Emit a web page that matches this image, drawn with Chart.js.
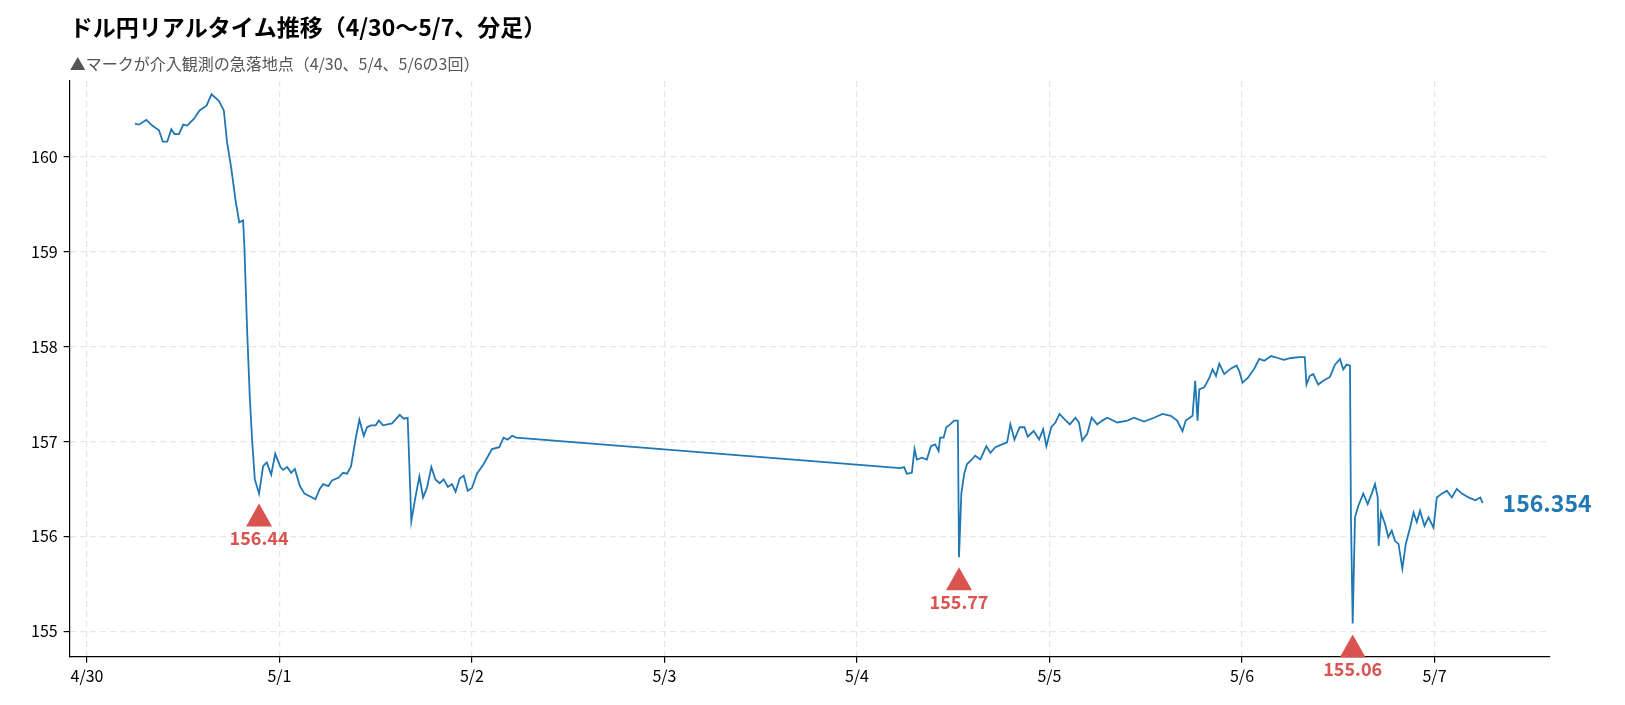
<!DOCTYPE html>
<html>
<head>
<meta charset="utf-8">
<script src="https://cdn.jsdelivr.net/npm/chart.js@4"></script>
<style>
  body { margin: 0; background: #fff; }
  .wrap { width: 1625px; height: 705px; }
</style>
</head>
<body>
<div class="wrap"><canvas id="c"></canvas></div>
<script>
// days since 4/30 00:00
const days = [
  0.249,0.270,0.308,0.339,0.374,0.394,0.417,0.438,0.455,0.478,0.500,0.521,0.555,0.585,0.621,0.647,0.685,0.711,
  0.728,0.749,0.772,0.791,0.811,0.818,0.832,0.846,0.858,0.872,0.894,0.915,0.934,0.957,0.978,1.005,1.019,1.040,
  1.061,1.080,1.106,1.130,1.187,1.209,1.227,1.254,1.273,1.308,1.330,1.351,1.372,1.394,1.415,1.438,1.455,1.476,
  1.500,1.516,1.538,1.585,1.625,1.645,1.666,1.685,1.706,1.727,1.746,1.766,1.789,1.810,1.832,1.853,1.875,1.896,
  1.915,1.936,1.957,1.978,2.000,2.026,2.060,2.104,2.142,2.164,2.185,2.209,2.230,
  4.225,4.245,4.259,4.285,4.299,4.311,4.337,4.363,4.384,4.406,4.424,4.432,4.450,4.464,4.484,4.505,4.524,4.530,
  4.542,4.557,4.571,4.597,4.614,4.641,4.672,4.693,4.719,4.753,4.780,4.797,4.818,4.845,4.870,4.887,4.918,4.946,
  4.967,4.984,5.009,5.031,5.052,5.075,5.106,5.135,5.153,5.170,5.196,5.219,5.248,5.274,5.300,5.352,5.405,5.439,
  5.491,5.543,5.587,5.630,5.663,5.691,5.708,5.743,5.757,5.769,5.778,5.804,5.830,5.847,5.865,5.882,5.908,5.943,
  5.972,5.986,6.003,6.030,6.064,6.090,6.116,6.151,6.186,6.217,6.255,6.299,6.326,6.335,6.352,6.370,6.396,6.422,
  6.457,6.483,6.509,6.526,6.543,6.561,6.566,6.575,6.587,6.604,6.630,6.653,6.674,6.691,6.705,6.710,6.722,6.743,
  6.760,6.778,6.795,6.813,6.833,6.851,6.873,6.891,6.908,6.925,6.948,6.969,6.995,7.012,7.038,7.064,7.090,7.116,
  7.142,7.177,7.212,7.238,7.250
];
const prices = [
  160.35,160.34,160.39,160.33,160.28,160.16,160.16,160.29,160.24,160.24,160.34,160.33,160.40,160.49,160.54,160.66,160.59,160.49,
  160.15,159.89,159.54,159.31,159.33,159.04,158.17,157.46,157.01,156.60,156.45,156.74,156.78,156.65,156.87,156.73,156.70,156.73,
  156.67,156.71,156.53,156.45,156.39,156.50,156.55,156.53,156.59,156.62,156.67,156.66,156.74,157.01,157.23,157.06,157.15,157.17,
  157.17,157.22,157.17,157.19,157.28,157.24,157.25,156.16,156.41,156.63,156.41,156.51,156.73,156.60,156.56,156.60,156.52,156.55,
  156.47,156.61,156.64,156.48,156.51,156.66,156.76,156.92,156.94,157.04,157.02,157.06,157.04,
  156.72,156.73,156.66,156.67,156.92,156.81,156.83,156.81,156.95,156.97,156.90,157.04,157.04,157.15,157.18,157.22,157.22,155.78,
  156.45,156.66,156.76,156.81,156.85,156.81,156.95,156.88,156.94,156.97,156.99,157.18,157.02,157.15,157.15,157.05,157.11,157.02,
  157.13,156.95,157.15,157.20,157.29,157.24,157.18,157.25,157.20,157.01,157.08,157.25,157.18,157.22,157.25,157.20,157.22,157.25,
  157.21,157.25,157.29,157.27,157.22,157.11,157.22,157.27,157.64,157.22,157.55,157.57,157.67,157.76,157.69,157.82,157.71,157.77,
  157.80,157.74,157.62,157.67,157.77,157.87,157.85,157.90,157.88,157.86,157.88,157.89,157.89,157.60,157.69,157.71,157.60,157.64,
  157.68,157.81,157.87,157.76,157.81,157.80,156.20,155.08,156.20,156.32,156.45,156.34,156.45,156.55,156.41,155.90,156.25,156.13,
  155.99,156.06,155.95,155.92,155.66,155.92,156.09,156.25,156.15,156.27,156.11,156.20,156.09,156.41,156.45,156.48,156.41,156.50,
  156.45,156.41,156.38,156.41,156.35
];
const dayLabels = ['4/30','5/1','5/2','5/3','5/4','5/5','5/6','5/7'];
const dropDays = [0.894, 4.530, 6.575];
const dropPrices = [156.44, 155.77, 155.06];
const lastPrice = '156.354';
const titleText = 'ドル円リアルタイム推移（4/30〜5/7、分足）';
const subText = '▲マークが介入観測の急落地点（4/30、5/4、5/6の3回）';

const JP = '"Noto Sans CJK JP", "Noto Sans", sans-serif';
const BLUE = '#1f77b4';
const RED = '#d9534f';

const markPlugin = {
  id: 'marks',
  afterDraw(chart) {
    const { ctx, chartArea, scales: { x, y } } = chart;
    ctx.save();
    // title + subtitle aligned with the plot's left edge
    ctx.textAlign = 'left';
    ctx.textBaseline = 'middle';
    ctx.fillStyle = '#000';
    ctx.font = 'bold 23px ' + JP;
    ctx.fillText(titleText, chartArea.left, 27);
    ctx.fillStyle = '#555';
    ctx.font = '16px ' + JP;
    ctx.fillText(subText, chartArea.left, 64);

    dropDays.forEach((d, i) => {
      const px = x.getPixelForValue(d);
      const py = y.getPixelForValue(dropPrices[i]) + 21;
      ctx.fillStyle = RED;
      ctx.beginPath();
      ctx.moveTo(px, py - 12);
      ctx.lineTo(px + 13, py + 11);
      ctx.lineTo(px - 13, py + 11);
      ctx.closePath();
      ctx.fill();
      ctx.font = 'bold 18px ' + JP;
      ctx.textAlign = 'center';
      ctx.fillText(dropPrices[i].toFixed(2), px, py + 23);
    });
    const lx = x.getPixelForValue(days[days.length - 1]) + 20;
    const ly = y.getPixelForValue(prices[prices.length - 1]);
    ctx.fillStyle = BLUE;
    ctx.font = 'bold 23px ' + JP;
    ctx.textAlign = 'left';
    ctx.fillText(lastPrice, lx, ly);
    ctx.restore();
  }
};

new Chart(document.getElementById('c'), {
  type: 'line',
  data: {
    datasets: [{
      data: days.map((d, i) => ({ x: d, y: prices[i] })),
      borderColor: BLUE,
      borderWidth: 1.8,
      pointRadius: 0,
      tension: 0,
      fill: false
    }]
  },
  options: {
    responsive: true,
    maintainAspectRatio: false,
    animation: false,
    layout: { padding: { left: 25, right: 75, top: 81, bottom: 15 } },
    plugins: {
      legend: { display: false },
      tooltip: { enabled: false }
    },
    scales: {
      x: {
        type: 'linear', min: -0.09, max: 7.6,
        afterBuildTicks(s) { s.ticks = dayLabels.map((_, i) => ({ value: i })); },
        ticks: { callback: v => dayLabels[v], color: '#000', font: { family: JP, size: 16 }, maxRotation: 0, padding: 4 },
        grid: { color: '#e6e6e6', tickColor: '#000', tickLength: 6, lineWidth: 1.2 },
        border: { display: true, color: '#000', width: 1.2, dash: [6, 4] }
      },
      y: {
        min: 154.73, max: 160.8,
        afterBuildTicks(s) { s.ticks = [155,156,157,158,159,160].map(v => ({ value: v })); },
        ticks: { color: '#000', font: { family: JP, size: 16 }, padding: 6 },
        grid: { color: '#e6e6e6', tickColor: '#000', tickLength: 6, lineWidth: 1.2 },
        border: { display: true, color: '#000', width: 1.2, dash: [6, 4] }
      }
    }
  },
  plugins: [markPlugin]
});
</script>
</body>
</html>
